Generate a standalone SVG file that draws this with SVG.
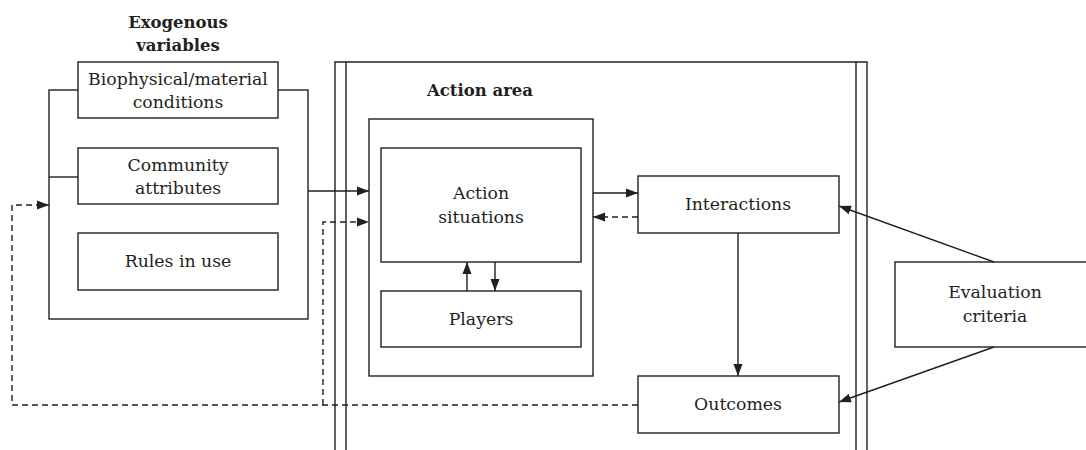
<svg xmlns="http://www.w3.org/2000/svg" width="1086" height="450" viewBox="0 0 1086 450">
<style>
.box{fill:#fff;stroke:#231f20;stroke-width:1.4}
.ln{fill:none;stroke:#231f20;stroke-width:1.4}
.ds{fill:none;stroke:#231f20;stroke-width:1.4;stroke-dasharray:6,4}
text{font-family:"DejaVu Serif","Liberation Serif",serif;font-size:17.3px;fill:#231f20;text-anchor:middle}
.b{font-weight:bold;font-size:16.5px}
</style>
<defs>
<marker id="ah" viewBox="0 0 12 10" refX="12" refY="5" markerWidth="12" markerHeight="10" markerUnits="userSpaceOnUse" orient="auto">
<path d="M0,0.5 L12,5 L0,9.5 Z" fill="#231f20"/>
</marker>
</defs>
<rect width="1086" height="450" fill="#fff"/>
<g id="action-area">
<path class="ln" d="M335,450 V62 H867 V450 M346,450 V62 M856,450 V62"/>
<text class="b" x="480" y="96">Action area</text>
</g>
<g id="exogenous">
<text class="b" x="178" y="28">Exogenous</text>
<text class="b" x="178" y="51">variables</text>
<rect class="box" x="49" y="90" width="259" height="229"/>
</g>
<g id="biophysical">
<rect class="box" x="78" y="62" width="200" height="56"/>
<text x="178" y="85">Biophysical/material</text>
<text x="178" y="108">conditions</text>
</g>
<g id="community">
<rect class="box" x="78" y="148" width="200" height="56"/>
<text x="178" y="171">Community</text>
<text x="178" y="194">attributes</text>
</g>
<g id="rules">
<rect class="box" x="78" y="233" width="200" height="57"/>
<text x="178" y="267">Rules in use</text>
</g>
<g id="action-container">
<rect class="box" x="369" y="119" width="224" height="257"/>
</g>
<g id="action-situations">
<rect class="box" x="381" y="148" width="200" height="114"/>
<text x="481" y="199">Action</text>
<text x="481" y="223">situations</text>
</g>
<g id="players">
<rect class="box" x="381" y="291" width="200" height="56"/>
<text x="481" y="325">Players</text>
</g>
<g id="interactions">
<rect class="box" x="638" y="176" width="201" height="57"/>
<text x="738" y="210">Interactions</text>
</g>
<g id="outcomes">
<rect class="box" x="638" y="376" width="201" height="57"/>
<text x="738" y="410">Outcomes</text>
</g>
<g id="evaluation">
<rect class="box" x="895" y="262" width="200" height="85"/>
<text x="995" y="298">Evaluation</text>
<text x="995" y="322">criteria</text>
</g>
<g id="connectors">
<path class="ln" d="M49,177 H78"/>
<path class="ln" d="M308,191 H369" marker-end="url(#ah)"/>
<path class="ln" d="M467,291 V262" marker-end="url(#ah)"/>
<path class="ln" d="M495,262 V291" marker-end="url(#ah)"/>
<path class="ln" d="M593,193 H638" marker-end="url(#ah)"/>
<path class="ds" d="M638,217 H593" marker-end="url(#ah)"/>
<path class="ln" d="M738,233 V376" marker-end="url(#ah)"/>
<path class="ln" d="M994,262 L839,206" marker-end="url(#ah)"/>
<path class="ln" d="M994,347 L839,402" marker-end="url(#ah)"/>
<path class="ds" d="M638,405 H12 V205 H49" marker-end="url(#ah)"/>
<path class="ds" d="M323,405 V222 H369" marker-end="url(#ah)"/>
</g>
</svg>
